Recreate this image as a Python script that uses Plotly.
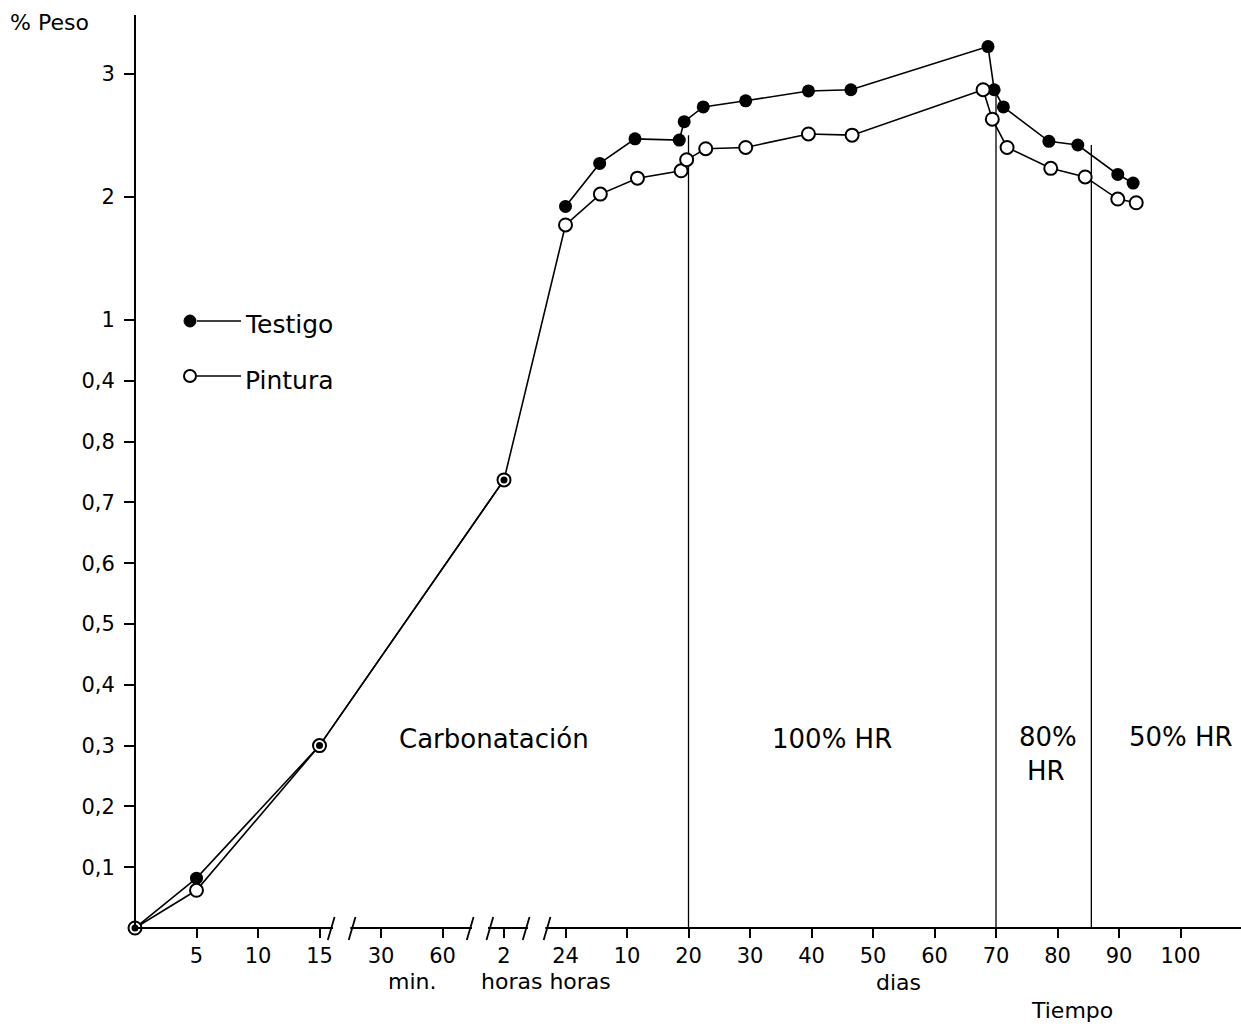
import numpy as np
import plotly.graph_objects as go

# ---------------- data ----------------
# broken time axis: each labelled time sits on an equally spaced slot
tick_days = [0, 5/1440, 10/1440, 15/1440, 30/1440, 60/1440, 2/24, 1,
             10, 20, 30, 40, 50, 60, 70, 80, 90, 100, 110]
tick_labels_x = ["", "5", "10", "15", "30", "60", "2", "24",
                 "10", "20", "30", "40", "50", "60", "70", "80", "90", "100", ""]

# broken weight axis: 0..1 stretched, above 1 compressed
y_anchor_val = [0, 1, 2, 3, 4]
y_anchor_pos = [0, 10, 12.03, 14.05, 16.08]
ytick_vals = [0.1, 0.2, 0.3, 0.4, 0.5, 0.6, 0.7, 0.8, 0.9, 1, 2, 3]
ytick_text = ["0,1", "0,2", "0,3", "0,4", "0,5", "0,6", "0,7", "0,8", "0,4", "1", "2", "3"]

# time in days
testigo_t = [0, 5/1440, 15/1440, 2/24, 1, 6.0, 11.3, 18.5, 19.3, 22.4, 29.3, 39.5, 46.4,
             68.7, 69.7, 71.2, 78.6, 83.3, 89.8, 92.3]
testigo_w = [0, 0.082, 0.30, 0.737, 1.92, 2.27, 2.47, 2.46, 2.61, 2.73, 2.78, 2.86, 2.87,
             3.22, 2.87, 2.73, 2.45, 2.42, 2.18, 2.11]
pintura_t = [0, 5/1440, 15/1440, 2/24, 1, 6.1, 11.7, 18.8, 19.7, 22.8, 29.3, 39.5, 46.6,
             67.9, 69.4, 71.8, 78.9, 84.5, 89.8, 92.8]
pintura_w = [0, 0.062, 0.30, 0.737, 1.77, 2.02, 2.15, 2.21, 2.30, 2.39, 2.40, 2.51, 2.50,
             2.87, 2.63, 2.40, 2.23, 2.16, 1.98, 1.95]
# in the original the Testigo curve is not drawn between 2 h and 24 h
testigo_gap_after = 3

# stage separators (days) and their heights (% peso)
stage_days = [20, 70, 85.5]
stage_top = [2.5, 2.87, 2.42]

# ---------------- scale helpers ----------------
slot = np.arange(len(tick_days))


def xp(t):
    return np.interp(t, tick_days, slot)


def yp(v):
    return np.interp(v, y_anchor_val, y_anchor_pos)


W, H = 1241, 1026
ML, MR, MT = 135, 0, 15
PLOT_H = 928 - 15
MB = H - MT - PLOT_H
px_x = 61.5
x_max = (W - ML - MR) / px_x
y_max = PLOT_H / 60.8

FONT = "DejaVu Sans"
fig = go.Figure()

tx = list(xp(testigo_t))
ty = list(yp(testigo_w))
g = testigo_gap_after + 1
tx_line = tx[:g] + [None] + tx[g:]
ty_line = ty[:g] + [None] + ty[g:]

fig.add_trace(go.Scatter(
    x=tx_line, y=ty_line, mode="lines+markers", name="Testigo", connectgaps=False,
    line=dict(color="black", width=1.6),
    marker=dict(symbol="circle", size=13, color="black"),
    showlegend=False, cliponaxis=False))
fig.add_trace(go.Scatter(
    x=xp(pintura_t), y=yp(pintura_w), mode="lines+markers", name="Pintura",
    line=dict(color="black", width=1.6),
    marker=dict(symbol="circle", size=13, color="white", line=dict(color="black", width=2)),
    showlegend=False, cliponaxis=False))
fig.add_trace(go.Scatter(
    x=tx, y=ty, mode="markers", hoverinfo="skip",
    marker=dict(symbol="circle", size=7, color="black"),
    showlegend=False, cliponaxis=False))


# page-pixel helpers (reference picture coordinates)
def fx(xpix):
    return (xpix - ML) / (W - ML - MR)


def fy(ypix):
    return (H - MB - ypix) / (H - MT - MB)


shapes = []
# stage separator lines
for d, top in zip(stage_days, stage_top):
    shapes.append(dict(type="line", xref="x", yref="y", x0=float(xp(d)), x1=float(xp(d)),
                       y0=0, y1=float(yp(top)), layer="below",
                       line=dict(color="black", width=1.3)))

# y axis line
shapes.append(dict(type="line", xref="paper", yref="paper", x0=0, x1=0, y0=0, y1=1,
                   line=dict(color="black", width=2)))
# x axis line with breaks
segs = [(0, 3.22), (3.50, 5.48), (5.74, 6.39), (6.67, x_max)]
for a, b in segs:
    shapes.append(dict(type="line", xref="x", yref="paper", x0=a, x1=b, y0=0, y1=0,
                       line=dict(color="black", width=2.2)))
dx = 0.055
for s in [3.19, 3.53, 5.45, 5.77, 6.36, 6.70]:
    shapes.append(dict(type="line", xref="x", yref="paper", x0=s - dx, x1=s + dx,
                       y0=fy(940), y1=fy(917), line=dict(color="black", width=1.8)))

# legend (manual)
leg = [("Testigo", "black", 321), ("Pintura", "white", 376)]
for name, fill, ypx in leg:
    shapes.append(dict(type="circle", xref="paper", yref="paper",
                       x0=fx(184), x1=fx(196), y0=fy(ypx + 6), y1=fy(ypx - 6),
                       fillcolor=fill, line=dict(color="black", width=2 if fill == "white" else 1)))
    shapes.append(dict(type="line", xref="paper", yref="paper",
                       x0=fx(197), x1=fx(241), y0=fy(ypx), y1=fy(ypx),
                       line=dict(color="black", width=1.3)))

annotations = []


def ann(text, xpix, ypix, size=26, xanchor="center"):
    annotations.append(dict(text=text, xref="paper", yref="paper",
                            x=fx(xpix), y=fy(ypix),
                            xanchor=xanchor, yanchor="middle", showarrow=False,
                            font=dict(family=FONT, size=size, color="black")))


ann("Testigo", 243, 324, size=25, xanchor="left")
ann("Pintura", 243, 380, size=25, xanchor="left")
ann("Carbonatación", 494, 739)
ann("100% HR", 832, 739)
ann("80%", 1048, 737)
ann("HR", 1046, 771)
ann("50% HR", 1181, 737)
ann("% Peso", 8, 22, size=22, xanchor="left")
ann("min.", 412, 981, size=22)
ann("horas horas", 546, 981, size=22)
ann("dias", 898, 982, size=22)
ann("Tiempo", 1072, 1011, size=22)

fig.update_layout(
    width=W, height=H,
    margin=dict(l=ML, r=MR, t=MT, b=MB),
    paper_bgcolor="white", plot_bgcolor="white",
    shapes=shapes, annotations=annotations,
    xaxis=dict(range=[0, x_max], showgrid=False, zeroline=False, showline=False,
               tickmode="array", tickvals=slot[1:18].tolist(), ticktext=tick_labels_x[1:18],
               ticks="outside", ticklen=9, tickwidth=2, tickcolor="black",
               tickfont=dict(family=FONT, size=21, color="black")),
    yaxis=dict(range=[0, y_max], showgrid=False, zeroline=False, showline=False,
               tickmode="array", tickvals=yp(ytick_vals).tolist(), ticktext=ytick_text,
               ticks="outside", ticklen=10, tickwidth=2, tickcolor="black",
               ticklabelstandoff=5,
               tickfont=dict(family=FONT, size=21, color="black")),
)

# remove the browser's default body margin so the figure fills the window exactly
fig.write_html("out.html", config={"displayModeBar": False},
               post_script="document.body.style.margin='0';document.body.style.overflow='hidden';")
